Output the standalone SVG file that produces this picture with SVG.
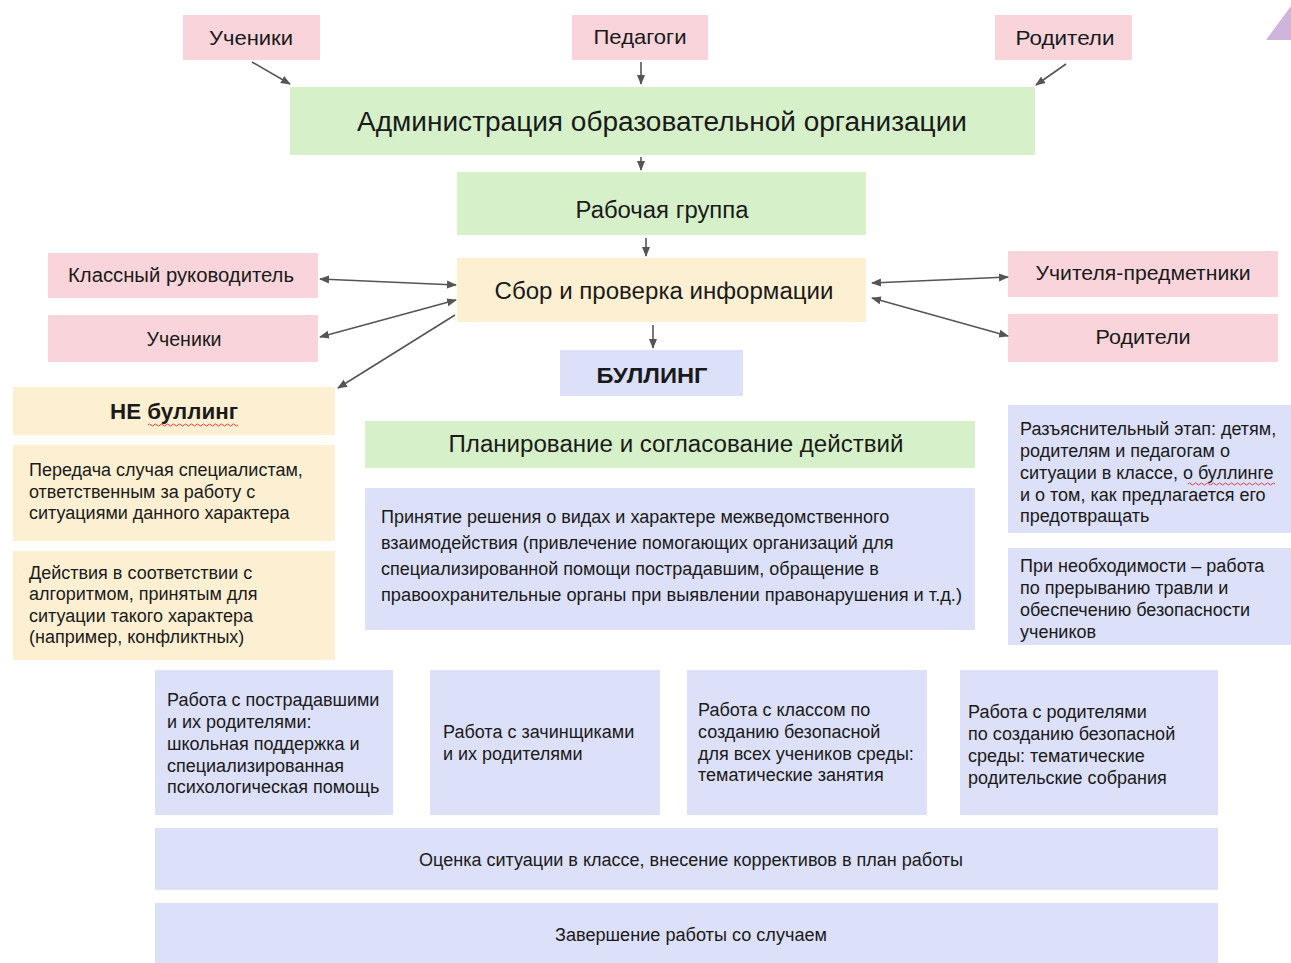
<svg xmlns="http://www.w3.org/2000/svg" width="1291" height="963" viewBox="0 0 1291 963">
<defs>
<style>
.pink{fill:#f9d5db}
.green{fill:#d6f0c9}
.yellow{fill:#fdf0d2}
.lav{fill:#dce0f8}
text{font-family:"Liberation Sans",Arial,sans-serif;fill:#1a1a1a}
.t20{font-size:20px}
.t21{font-size:21px}
.t18{font-size:18px}
.c{text-anchor:middle}
.conn{stroke:#555;stroke-width:1.6;fill:none}
.wavy{stroke:#e04040;stroke-width:1;fill:none}
</style>
<marker id="ah" viewBox="0 0 10 10" refX="9" refY="5" markerWidth="10" markerHeight="10" markerUnits="userSpaceOnUse" orient="auto-start-reverse">
<path d="M0,1 L10,5 L0,9 z" fill="#555"/>
</marker>
</defs>
<rect width="1291" height="963" fill="#ffffff"/>
<polygon points="1266,40 1291,6 1291,40" fill="#cfb5dc"/>

<g id="n-top-uchenik"><rect class="pink" x="183" y="15" width="137" height="45"/><text class="t21 c" x="251" y="45" textLength="84" lengthAdjust="spacingAndGlyphs">Ученики</text></g>
<g id="n-pedagogi"><rect class="pink" x="572" y="15" width="136" height="45"/><text class="t21 c" x="640" y="44" textLength="93" lengthAdjust="spacingAndGlyphs">Педагоги</text></g>
<g id="n-top-roditeli"><rect class="pink" x="995" y="15" width="137" height="45"/><text class="t21 c" x="1065" y="45" textLength="99" lengthAdjust="spacingAndGlyphs">Родители</text></g>

<g id="n-admin"><rect class="green" x="290" y="87" width="745" height="68"/><text class="c" style="font-size:27px" x="662" y="131" textLength="610" lengthAdjust="spacingAndGlyphs">Администрация образовательной организации</text></g>
<g id="n-rabgr"><rect class="green" x="457" y="172" width="409" height="63"/><text class="c" style="font-size:23px" x="662" y="218" textLength="173" lengthAdjust="spacingAndGlyphs">Рабочая группа</text></g>
<g id="n-sbor"><rect class="yellow" x="457" y="258" width="409" height="64"/><text class="c" style="font-size:23px" x="664" y="299" textLength="339" lengthAdjust="spacingAndGlyphs">Сбор и проверка информации</text></g>
<g id="n-bulling"><rect class="lav" x="560" y="350" width="183" height="46"/><text class="c" style="font-size:22px;font-weight:bold" x="652" y="383" textLength="111" lengthAdjust="spacingAndGlyphs">БУЛЛИНГ</text></g>

<g id="n-klruk"><rect class="pink" x="48" y="253" width="270" height="45"/><text class="t20 c" x="181" y="282" textLength="226" lengthAdjust="spacingAndGlyphs">Классный руководитель</text></g>
<g id="n-uchenik2"><rect class="pink" x="48" y="315" width="270" height="47"/><text class="t20 c" x="184" y="346" textLength="75" lengthAdjust="spacingAndGlyphs">Ученики</text></g>
<g id="n-uchpred"><rect class="pink" x="1008" y="251" width="270" height="46"/><text class="t20 c" x="1143" y="280" textLength="215" lengthAdjust="spacingAndGlyphs">Учителя-предметники</text></g>
<g id="n-roditeli2"><rect class="pink" x="1008" y="314" width="270" height="48"/><text class="t20 c" x="1143" y="344" textLength="95" lengthAdjust="spacingAndGlyphs">Родители</text></g>

<g id="n-nebulling"><rect class="yellow" x="13" y="387" width="322" height="48"/><text class="c" style="font-size:22px;font-weight:bold" x="174" y="419" textLength="128" lengthAdjust="spacingAndGlyphs">НЕ буллинг</text><path class="wavy" d="M148,425 q1.5,-2 3,0 t3,0 t3,0 t3,0 t3,0 t3,0 t3,0 t3,0 t3,0 t3,0 t3,0 t3,0 t3,0 t3,0 t3,0 t3,0 t3,0 t3,0 t3,0 t3,0 t3,0 t3,0 t3,0 t3,0 t3,0 t3,0 t3,0 t3,0 t3,0 t3,0"/></g>
<g id="n-peredacha"><rect class="yellow" x="13" y="445" width="322" height="96"/><text class="t18" x="29" y="476">Передача случая специалистам,</text><text class="t18" x="29" y="498">ответственным за работу с</text><text class="t18" x="29" y="519">ситуациями данного характера</text></g>
<g id="n-deistviya"><rect class="yellow" x="13" y="551" width="322" height="109"/><text class="t18" x="29" y="579">Действия в соответствии с</text><text class="t18" x="29" y="600">алгоритмом, принятым для</text><text class="t18" x="29" y="622">ситуации такого характера</text><text class="t18" x="29" y="643">(например, конфликтных)</text></g>

<g id="n-plan"><rect class="green" x="365" y="421" width="610" height="47"/><text class="c" style="font-size:23px" x="676" y="452" textLength="455" lengthAdjust="spacingAndGlyphs">Планирование и согласование действий</text></g>
<g id="n-prinyatie"><rect class="lav" x="365" y="488" width="610" height="142"/><text class="t18" x="381" y="523">Принятие решения о видах и характере межведомственного</text><text class="t18" x="381" y="549">взаимодействия (привлечение помогающих организаций для</text><text class="t18" x="381" y="575">специализированной помощи пострадавшим, обращение в</text><text class="t18" x="381" y="601" textLength="581" lengthAdjust="spacingAndGlyphs">правоохранительные органы при выявлении правонарушения и т.д.)</text></g>

<g id="n-razyasn"><rect class="lav" x="1008" y="405" width="283" height="128"/><text class="t18" x="1020" y="435">Разъяснительный этап: детям,</text><text class="t18" x="1020" y="457">родителям и педагогам о</text><text class="t18" x="1020" y="479">ситуации в классе, о буллинге</text><text class="t18" x="1020" y="501">и о том, как предлагается его</text><text class="t18" x="1020" y="522">предотвращать</text><path class="wavy" d="M1188,484 q1.5,-2 3,0 t3,0 t3,0 t3,0 t3,0 t3,0 t3,0 t3,0 t3,0 t3,0 t3,0 t3,0 t3,0 t3,0 t3,0 t3,0 t3,0 t3,0 t3,0 t3,0 t3,0 t3,0 t3,0 t3,0 t3,0 t3,0 t3,0 t3,0 t3,0"/></g>
<g id="n-pri-neobh"><rect class="lav" x="1008" y="548" width="283" height="97"/><text class="t18" x="1020" y="572">При необходимости – работа</text><text class="t18" x="1020" y="594">по прерыванию травли и</text><text class="t18" x="1020" y="616">обеспечению безопасности</text><text class="t18" x="1020" y="638">учеников</text></g>

<g id="n-postrad"><rect class="lav" x="155" y="670" width="238" height="145"/><text class="t18" x="167" y="706">Работа с пострадавшими</text><text class="t18" x="167" y="728">и их родителями:</text><text class="t18" x="167" y="750">школьная поддержка и</text><text class="t18" x="167" y="772">специализированная</text><text class="t18" x="167" y="793">психологическая помощь</text></g>
<g id="n-zachin"><rect class="lav" x="430" y="670" width="230" height="145"/><text class="t18" x="443" y="738">Работа с зачинщиками</text><text class="t18" x="443" y="760">и их родителями</text></g>
<g id="n-klass"><rect class="lav" x="687" y="670" width="240" height="145"/><text class="t18" x="698" y="716">Работа с классом по</text><text class="t18" x="698" y="738">созданию безопасной</text><text class="t18" x="698" y="760">для всех учеников среды:</text><text class="t18" x="698" y="781">тематические занятия</text></g>
<g id="n-roditeli3"><rect class="lav" x="960" y="670" width="258" height="145"/><text class="t18" x="968" y="718">Работа с родителями</text><text class="t18" x="968" y="740">по созданию безопасной</text><text class="t18" x="968" y="762">среды: тематические</text><text class="t18" x="968" y="784">родительские собрания</text></g>

<g id="n-ocenka"><rect class="lav" x="155" y="828" width="1063" height="62"/><text class="c t18" x="691" y="866" textLength="544" lengthAdjust="spacingAndGlyphs">Оценка ситуации в классе, внесение коррективов в план работы</text></g>
<g id="n-zaversh"><rect class="lav" x="155" y="903" width="1063" height="60"/><text class="c t18" x="691" y="941" textLength="272" lengthAdjust="spacingAndGlyphs">Завершение работы со случаем</text></g>

<g id="connectors">
<line class="conn" x1="252" y1="62" x2="290" y2="84" marker-end="url(#ah)"/>
<line class="conn" x1="641" y1="62" x2="641" y2="84" marker-end="url(#ah)"/>
<line class="conn" x1="1066" y1="64" x2="1036" y2="85" marker-end="url(#ah)"/>
<line class="conn" x1="641" y1="157" x2="641" y2="170" marker-end="url(#ah)"/>
<line class="conn" x1="646" y1="238" x2="646" y2="256" marker-end="url(#ah)"/>
<line class="conn" x1="653" y1="325" x2="653" y2="348" marker-end="url(#ah)"/>
<line class="conn" x1="320" y1="279" x2="456" y2="285" marker-start="url(#ah)" marker-end="url(#ah)"/>
<line class="conn" x1="320" y1="337" x2="456" y2="300" marker-start="url(#ah)" marker-end="url(#ah)"/>
<line class="conn" x1="455" y1="315" x2="338" y2="388" marker-end="url(#ah)"/>
<line class="conn" x1="872" y1="283" x2="1008" y2="277" marker-start="url(#ah)" marker-end="url(#ah)"/>
<line class="conn" x1="872" y1="298" x2="1008" y2="336" marker-start="url(#ah)" marker-end="url(#ah)"/>
</g>
</svg>
